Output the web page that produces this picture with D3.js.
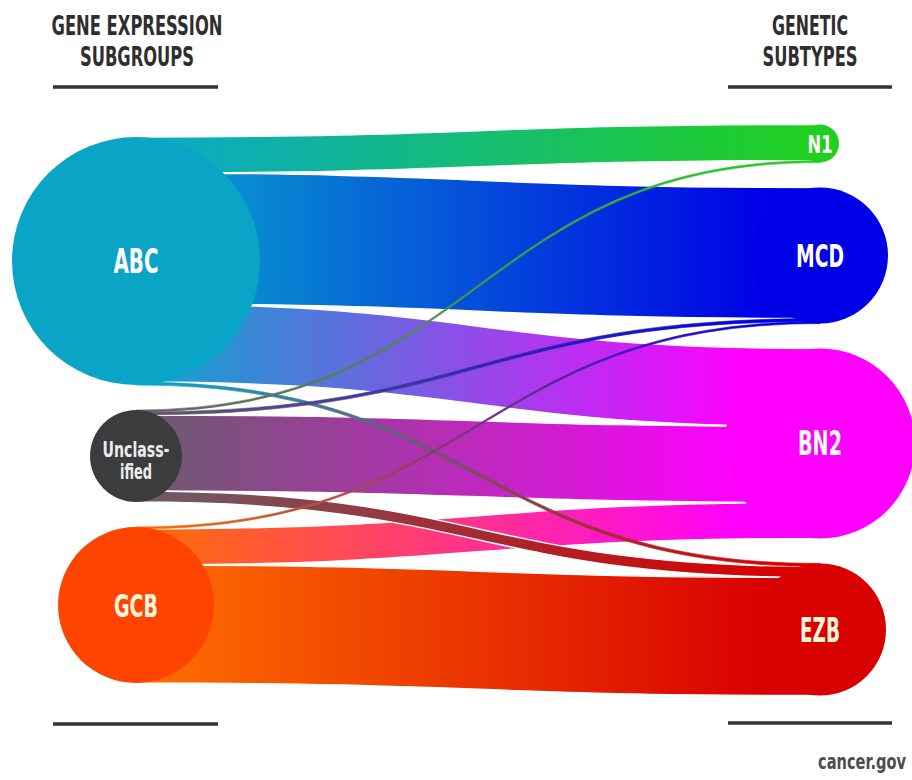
<!DOCTYPE html>
<html><head><meta charset="utf-8">
<script src="https://cdn.jsdelivr.net/npm/d3@7"></script>
<style>html,body{margin:0;padding:0;background:#fff;overflow:hidden}</style>
</head><body>
<svg id="chart" width="912" height="780"></svg>
<script>
// ---------------- data ----------------
const sources = ["ABC", "Unclassified", "GCB"];
const targets = ["N1", "MCD", "BN2", "EZB"];
// flow sizes from each gene-expression subgroup to each genetic subtype (N1, MCD, BN2, EZB)
const flowABC = [36, 131, 78, 3];
const flowUnclassified = [2, 3, 76, 11];
const flowGCB = [0, 2, 36, 118];
const sourceColors = ["#0aa4c6", "#3c3c3e", "#ff4300"];
const sourceRibbonColors = ["#0aa8cc", "#6a5c6a", "#ff7000"];
const targetColors = ["#20d020", "#0000e6", "#ff00ff", "#d80000"];
const sourceLabels = [["ABC"], ["Unclass-", "ified"], ["GCB"]];
const targetLabels = [["N1"], ["MCD"], ["BN2"], ["EZB"]];
const leftTitle = ["GENE EXPRESSION", "SUBGROUPS"];
const rightTitle = ["GENETIC", "SUBTYPES"];
const credit = "cancer.gov";

// ---------------- layout ----------------
const FONT = "'DejaVu Sans Condensed','Liberation Sans Narrow','Roboto',sans-serif";
const svg = d3.select("#chart");
const defs = svg.append("defs");
const matrix = [flowABC, flowUnclassified, flowGCB];

const col = d3.scalePoint().domain(["source", "target"]).range([136, 820]);
const size = d3.scaleLinear().domain([0, 100]).range([0, 100]); // px per case
const gap = 25, midY = 410;

function stackNodes(totals) {
  const px = totals.map(v => size(v));
  const full = d3.sum(px) + gap * (px.length - 1);
  let y = midY - full / 2;
  return px.map(h => { const n = { y0: y, y1: y + h, r: h / 2, cy: y + h / 2 }; y += h + gap; return n; });
}
const srcNodes = stackNodes(matrix.map(r => d3.sum(r)));
const tgtNodes = stackNodes(targets.map((t, j) => d3.sum(matrix, r => r[j])));
srcNodes.forEach((n, i) => { n.cx = col("source"); n.color = sourceColors[i]; n.rib = sourceRibbonColors[i]; n.lines = sourceLabels[i]; n.name = sources[i]; });
tgtNodes.forEach((n, j) => { n.cx = col("target"); n.color = targetColors[j]; n.lines = targetLabels[j]; n.name = targets[j]; });

// flows
const flows = [];
const srcOff = srcNodes.map(n => n.y0);
const tgtOff = tgtNodes.map(n => n.y0);
matrix.forEach((row, i) => row.forEach((v, j) => {
  if (!v) return;
  flows.push({ i, j, v, s0: srcOff[i], s1: srcOff[i] + size(v) });
  srcOff[i] += size(v);
}));
targets.forEach((t, j) => sources.forEach((s, i) => {
  const f = flows.find(d => d.i === i && d.j === j);
  if (!f) return;
  f.t0 = tgtOff[j]; f.t1 = tgtOff[j] + size(f.v);
  tgtOff[j] += size(f.v);
}));

function ribbon(f) {
  const xs = col("source"), xt = col("target"), xm = (xs + xt) / 2;
  const p = d3.path();
  p.moveTo(xs, f.s0);
  p.bezierCurveTo(xm, f.s0, xm, f.t0, xt, f.t0);
  p.lineTo(xt, f.t1);
  p.bezierCurveTo(xm, f.t1, xm, f.s1, xs, f.s1);
  p.closePath();
  return p.toString();
}

flows.forEach((f, k) => {
  const sn = srcNodes[f.i], tn = tgtNodes[f.j];
  const g = defs.append("linearGradient").attr("id", "g" + k)
    .attr("gradientUnits", "userSpaceOnUse")
    .attr("x1", sn.cx).attr("x2", tn.cx - tn.r * 0.8).attr("y1", 0).attr("y2", 0);
  g.append("stop").attr("offset", 0).attr("stop-color", sn.rib);
  g.append("stop").attr("offset", 1).attr("stop-color", tn.color);
});

const order = flows.map((f, k) => ({ f, k })).sort((a, b) => b.f.v - a.f.v);
svg.append("g").selectAll("path").data(order).join("path")
  .attr("d", d => ribbon(d.f))
  .attr("fill", d => `url(#g${d.k})`)
  .attr("stroke", d => size(d.f.v) > 6 ? "#fff" : `url(#g${d.k})`)
  .attr("stroke-width", d => size(d.f.v) > 6 ? 1.3 : 0.6);

// nodes
const allNodes = srcNodes.concat(tgtNodes);
svg.append("g").selectAll("circle").data(allNodes).join("circle")
  .attr("cx", d => d.cx).attr("cy", d => d.cy).attr("r", d => d.r)
  .attr("fill", d => d.color);

// labels
const labelStyle = {
  ABC: { fs: 34, w: [45], fill: "#ffffff" },
  Unclassified: { fs: 21, w: [67, 32], fill: "#ececec", lh: 22, dy: 4 },
  GCB: { fs: 32, w: [44], fill: "#fff6d8" },
  N1: { fs: 25, w: [25], fill: "#ffffff" },
  MCD: { fs: 32, w: [48], fill: "#ffffff" },
  BN2: { fs: 33, w: [44], fill: "#ffffff" },
  EZB: { fs: 34, w: [40], fill: "#fff4dc" }
};
allNodes.forEach(n => {
  const st = labelStyle[n.name];
  const lh = st.lh || 0, dy = st.dy || 0;
  n.lines.forEach((line, k) => {
    svg.append("text")
      .attr("x", n.cx).attr("y", n.cy + 0.36 * st.fs + (k - (n.lines.length - 1) / 2) * lh + dy)
      .attr("text-anchor", "middle")
      .attr("font-family", FONT).attr("font-weight", "bold").attr("font-size", st.fs)
      .attr("textLength", st.w[k]).attr("lengthAdjust", "spacingAndGlyphs")
      .attr("fill", st.fill).text(line);
  });
});

// titles
const titleWidths = { "GENE EXPRESSION": 171, "SUBGROUPS": 114, "GENETIC": 76, "SUBTYPES": 95 };
function title(lines, cx) {
  lines.forEach((line, k) => {
    svg.append("text").attr("x", cx).attr("y", 35 + k * 31)
      .attr("text-anchor", "middle")
      .attr("font-family", FONT).attr("font-weight", "bold").attr("font-size", 27)
      .attr("textLength", titleWidths[line]).attr("lengthAdjust", "spacingAndGlyphs")
      .attr("fill", "#2e2e2e").text(line);
  });
}
title(leftTitle, 137);
title(rightTitle, 810);

// rules
const rules = [[53, 218, 87], [728, 892, 87], [53, 218, 724], [728, 892, 723]];
svg.append("g").selectAll("line").data(rules).join("line")
  .attr("x1", d => d[0]).attr("x2", d => d[1]).attr("y1", d => d[2]).attr("y2", d => d[2])
  .attr("stroke", "#333").attr("stroke-width", 3.5);

// credit (compressed with a transform so its box stays inside the frame)
const creditText = svg.append("text")
  .attr("font-family", FONT).attr("font-weight", "bold").attr("font-size", 21)
  .attr("fill", "#4d4d4d").text(credit);
const natW = creditText.node().getComputedTextLength();
const sx = Math.min(1, 88 / natW);
creditText.attr("text-anchor", "end")
  .attr("transform", `translate(906,769) scale(${sx},1)`);
</script>
</body></html>
